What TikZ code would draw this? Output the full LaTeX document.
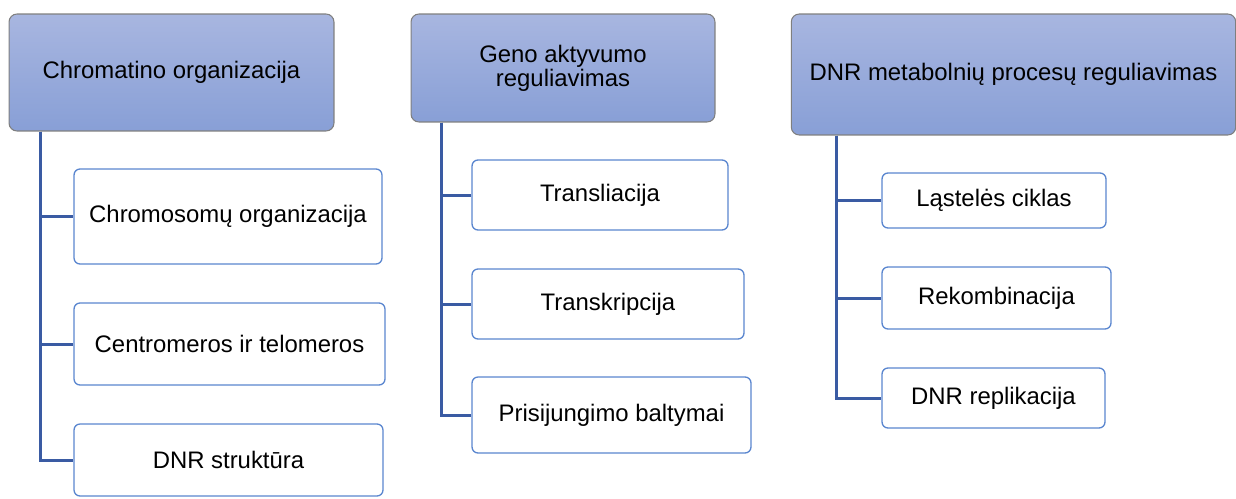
\documentclass[tikz,border=0pt]{standalone}
\usepackage{fontspec}
\setmainfont{Liberation Sans}
\usetikzlibrary{positioning, calc}
\definecolor{headtop}{HTML}{A8B6E0}
\definecolor{headbot}{HTML}{889FD6}
\definecolor{headline}{HTML}{7F7F7F}
\definecolor{leafline}{HTML}{5A86CF}
\definecolor{treeline}{HTML}{3A5BA3}

\begin{document}
\begin{tikzpicture}[x=0.02cm, y=-0.02cm,
  head/.style={rectangle, draw=headline, line width=0.6pt, top color=headtop, bottom color=headbot, rounded corners=4.5pt, align=center, font=\fontsize{13.6}{13.8}\selectfont, inner sep=2pt},
  leaf/.style={rectangle, draw=leafline, line width=0.75pt, fill=white, rounded corners=3.4pt, align=center, font=\fontsize{13.6}{16}\selectfont, inner sep=2pt},
  conn/.style={draw=treeline, line width=1.7pt},
]
\useasboundingbox (0,0) rectangle (1236,498);

% --- headers ---
\node[head, minimum width=6.50cm, minimum height=2.34cm] (chrom) at (171.5,72.5) {Chromatino organizacija};
\node[head, minimum width=6.08cm, minimum height=2.16cm] (geno) at (563,68) {Geno aktyvumo\\ reguliavimas};
\node[head, minimum width=8.89cm, minimum height=2.42cm] (dnrmet) at (1013.5,74.5) {DNR metabolnių procesų reguliavimas};

% --- left column ---
\node[leaf, minimum width=6.16cm, minimum height=1.90cm] (chromorg) at (228,216.5) {Chromosomų organizacija};
\node[leaf, minimum width=6.22cm, minimum height=1.64cm] (centro) at (229.5,344) {Centromeros ir telomeros};
\node[leaf, minimum width=6.18cm, minimum height=1.44cm] (dnrstr) at (228.5,460) {DNR struktūra};

% --- middle column ---
\node[leaf, minimum width=5.12cm, minimum height=1.40cm] (transl) at (600,195) {Transliacija};
\node[leaf, minimum width=5.44cm, minimum height=1.40cm] (transkr) at (608,304) {Transkripcija};
\node[leaf, minimum width=5.58cm, minimum height=1.52cm] (prisij) at (611.5,415) {Prisijungimo baltymai};

% --- right column ---
\node[leaf, minimum width=4.48cm, minimum height=1.10cm] (cikl) at (994,200.5) {Ląstelės ciklas};
\node[leaf, minimum width=4.58cm, minimum height=1.24cm] (rekomb) at (996.5,298) {Rekombinacija};
\node[leaf, minimum width=4.46cm, minimum height=1.20cm] (repl) at (993.5,398) {DNR replikacija};

% --- connectors ---
\foreach \c in {chromorg, centro, dnrstr}
  \draw[conn] ([xshift=0.64cm]chrom.south west) |- (\c.west);
\foreach \c in {transl, transkr, prisij}
  \draw[conn] ([xshift=0.62cm]geno.south west) |- (\c.west);
\foreach \c in {cikl, rekomb, repl}
  \draw[conn] ([xshift=0.92cm]dnrmet.south west) |- (\c.west);
\end{tikzpicture}
\end{document}
